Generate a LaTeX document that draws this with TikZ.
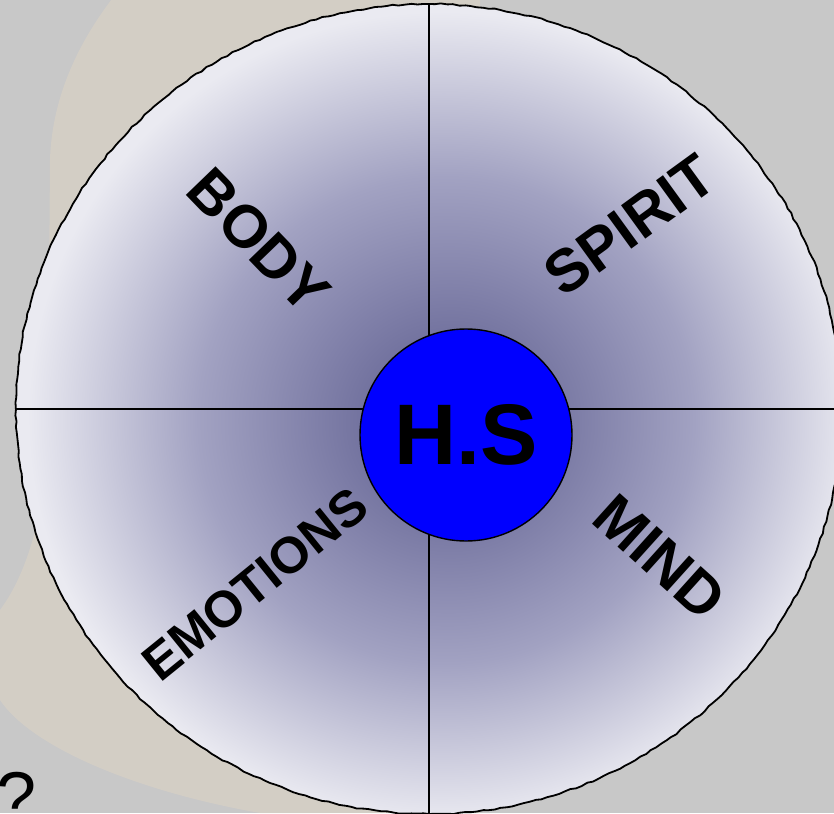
\documentclass[tikz,border=0pt]{standalone}
\usepackage{fontspec}
\setmainfont{Liberation Sans}
\usetikzlibrary{shapes.geometric,decorations.pathmorphing}
\definecolor{bgGrey}{RGB}{200,200,200}
\definecolor{gavelBeige}{RGB}{222,212,196}
\definecolor{wheelIn}{RGB}{96,96,146}
\definecolor{wheelIn2}{RGB}{108,108,154}
\definecolor{wheelMid}{RGB}{162,162,194}
\definecolor{wheelOut}{RGB}{234,234,241}
\definecolor{hubBlue}{RGB}{0,0,255}
\pgfdeclareradialshading{wheelshade}{\pgfpoint{1.5bp}{-1bp}}{color(0bp)=(wheelIn); color(4bp)=(wheelIn2); color(15bp)=(wheelMid); color(25bp)=(wheelOut); color(50bp)=(wheelOut)}
\tikzset{
  wheelbox/.style={ellipse, inner sep=0pt, minimum width=826pt, minimum height=810pt,
    shading=wheelshade, draw=black, line width=1.8pt,
    decorate, decoration={random steps, segment length=6pt, amplitude=0.7pt}},
  spoke/.style={draw=black, line width=1.8pt},
  hubnode/.style={circle, inner sep=0pt, minimum size=212pt, fill=hubBlue, draw=black, line width=1.4pt,
    font=\fontsize{86}{90}\selectfont\bfseries},
  quarter/.style={inner sep=0pt, font=\fontsize{60}{64}\selectfont\bfseries},
  qmark/.style={inner sep=0pt, anchor=base west, font=\fontsize{72}{78}\selectfont}
}
\begin{document}
\begin{tikzpicture}[x=1pt,y=-1pt]
\pgfmathsetseed{7}
\useasboundingbox (0,0) rectangle (834,813);
\fill[bgGrey] (0,0) rectangle (834,813);
% faint gavel in the background photo
\fill[gavelBeige, opacity=0.5] (115,-5) -- (480,-5) -- (480,813) -- (260,813)
  .. controls (130,790) and (30,745) .. (0,700) -- (0,610)
  .. controls (30,570) and (48,500) .. (48,420) -- (50,160)
  .. controls (52,95) and (80,40) .. (115,-5) -- cycle;
% wheel
\node[wheelbox] (wheel) at (429,409) {};
\draw[spoke] (wheel.north) -- (wheel.south);
\draw[spoke] (wheel.west) -- (wheel.east);
\node[hubnode] (hub) at (466,435) {H.S};
\node[quarter, rotate=-46] (body) at (259,241) {BODY};
\node[quarter, rotate=36] (spirit) at (630,225) {SPIRIT};
\node[quarter, rotate=39, font=\fontsize{51}{56}\selectfont\bfseries] (emotions) at (255,584) {EMOTIONS};
\node[quarter, rotate=-42] (mind) at (660,557) {MIND};
\node[qmark] (q) at (-4,822) {?};
\end{tikzpicture}
\end{document}
